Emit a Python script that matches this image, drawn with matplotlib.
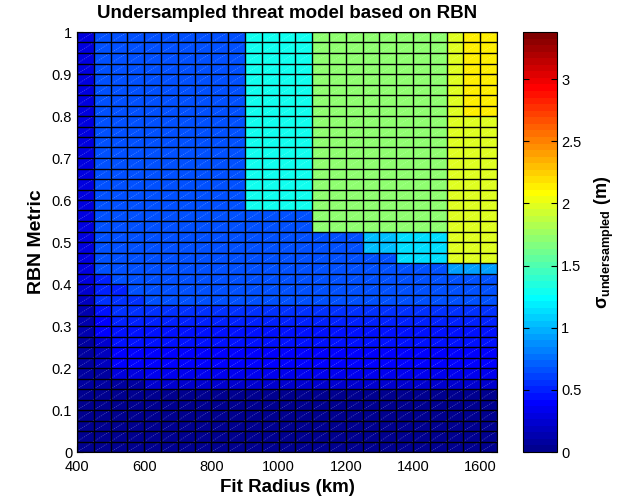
import numpy as np
import matplotlib
matplotlib.use("Agg")
import matplotlib.pyplot as plt
from matplotlib.colors import ListedColormap
from matplotlib.collections import LineCollection
from matplotlib.ticker import FormatStrFormatter

# cell edges
radius_edges = [400, 450, 500, 550, 600, 650, 700, 750, 800, 850, 900, 950, 1000,
                1050, 1100, 1150, 1200, 1250, 1300, 1350, 1400, 1450, 1500, 1550,
                1600, 1650]
rbn_edges = np.linspace(0.0, 1.0, 41)

# sigma_undersampled (m), one row per RBN bin (bottom -> top), 25 radius bins each
sigma_rows = [
    [0.05] * 25,
    [0.05] * 25,
    [0.05] * 25,
    [0.05] * 25,
    [0.05] * 25,
    [0.05] * 25,
    [0.06, 0.06, 0.06, 0.06] + [0.22] * 21,
    [0.08, 0.08, 0.30, 0.30] + [0.33] * 21,
    [0.10, 0.20] + [0.42] * 23,
    [0.10, 0.20] + [0.42] * 23,
    [0.10, 0.25] + [0.44] * 23,
    [0.12, 0.40] + [0.47] * 23,
    [0.12, 0.42] + [0.51] * 23,
    [0.15, 0.45] + [0.55] * 23,
    [0.18, 0.58, 0.58, 0.58] + [0.66] * 21,
    [0.22, 0.50, 0.50] + [0.68] * 22,
    [0.27, 0.50] + [0.68] * 23,
    [0.27] + [0.68] * 21 + [0.93] * 3,
    [0.27] + [0.68] * 18 + [1.14] * 3 + [1.99] * 3,
    [0.27] + [0.68] * 16 + [1.03] * 2 + [1.14] * 3 + [1.99] * 3,
    [0.27] + [0.68] * 16 + [1.03] * 2 + [1.14] * 3 + [1.99] * 3,
    [0.27] + [0.68] * 13 + [1.74] * 8 + [1.99] * 3,
    [0.27] + [0.68] * 13 + [1.74] * 8 + [1.99] * 3,
]
for _ in range(9):
    sigma_rows.append([0.27] + [0.68] * 9 + [1.32] * 4 + [1.74] * 8 + [1.99] * 3)
for _ in range(8):
    sigma_rows.append([0.27] + [0.68] * 9 + [1.32] * 4 + [1.74] * 8 + [1.99] + [2.12] * 2)

sigma = np.array(sigma_rows)
cbar_max = 3.38


def matlab_jet(n=64):
    m = int(np.ceil(n / 4))
    u = np.concatenate([np.arange(1, m + 1) / m, np.ones(m - 1), np.arange(m, 0, -1) / m])
    g = int(np.ceil(m / 2)) - (1 if n % 4 == 1 else 0) + np.arange(1, len(u) + 1)
    r = g + m
    b = g - m
    J = np.zeros((n, 3))
    J[r[r <= n] - 1, 0] = u[r <= n]
    J[g[g <= n] - 1, 1] = u[g <= n]
    J[b[b >= 1] - 1, 2] = u[b >= 1]
    return ListedColormap(J)


plt.rcParams["font.family"] = ["Liberation Sans", "DejaVu Sans"]
plt.rcParams["mathtext.fontset"] = "custom"
plt.rcParams["mathtext.rm"] = "Liberation Sans"
plt.rcParams["mathtext.bf"] = "Liberation Sans:bold"
plt.rcParams["mathtext.it"] = "Liberation Sans:italic"

fig = plt.figure(figsize=(6.38, 5.03), dpi=100)
ax = fig.add_axes([77 / 638, 51 / 503, 420 / 638, 420 / 503])
cax = fig.add_axes([523 / 638, 51 / 503, 33.5 / 638, 420 / 503])

cmap = matlab_jet(64)
X, Y = np.meshgrid(radius_edges, rbn_edges)
mesh = ax.pcolormesh(X, Y, sigma, cmap=cmap, vmin=0, vmax=cbar_max,
                     edgecolors="none")

# triangulation diagonals left by the surface export
segs = []
for j in range(len(rbn_edges) - 1):
    for i in range(len(radius_edges) - 1):
        segs.append([(radius_edges[i], rbn_edges[j]),
                     (radius_edges[i + 1], rbn_edges[j + 1])])
ax.add_collection(LineCollection(segs, colors="white", linewidths=0.5,
                                 alpha=0.35, linestyles=(0, (1.5, 1.5))))

# black cell edges
ax.vlines(radius_edges, 0, 1, colors="black", linewidth=1.0, snap=True)
ax.hlines(rbn_edges, 400, 1650, colors="black", linewidth=1.0, snap=True)

ax.set_xlim(400, 1650)
ax.set_ylim(0, 1)
ax.set_xticks([400, 600, 800, 1000, 1200, 1400, 1600])
ax.set_yticks(np.arange(0, 1.01, 0.1))
ax.yaxis.set_major_formatter(FormatStrFormatter("%g"))
ax.tick_params(direction="in", top=True, right=True, labelsize=10.5, length=4)
ax.tick_params(axis="x", pad=6)
ax.set_xlabel("Fit Radius (km)", fontsize=13.5, fontweight="bold", labelpad=3)
ax.set_ylabel("RBN Metric", fontsize=14, fontweight="bold", labelpad=5)
ax.set_title("Undersampled threat model based on RBN", fontsize=13.5,
             fontweight="bold", pad=10)

cb = fig.colorbar(mesh, cax=cax)
cb.set_ticks([0, 0.5, 1, 1.5, 2, 2.5, 3])
cb.ax.yaxis.set_major_formatter(FormatStrFormatter("%g"))
cb.ax.tick_params(direction="in", left=True, right=True, labelsize=10.5, length=4)
cb.outline.set_linewidth(0.8)
cb.set_label(r"$\mathbf{\sigma_{undersampled}}$ (m)", fontsize=13,
             fontweight="bold", labelpad=8)

fig.savefig("out.png", dpi=100)
